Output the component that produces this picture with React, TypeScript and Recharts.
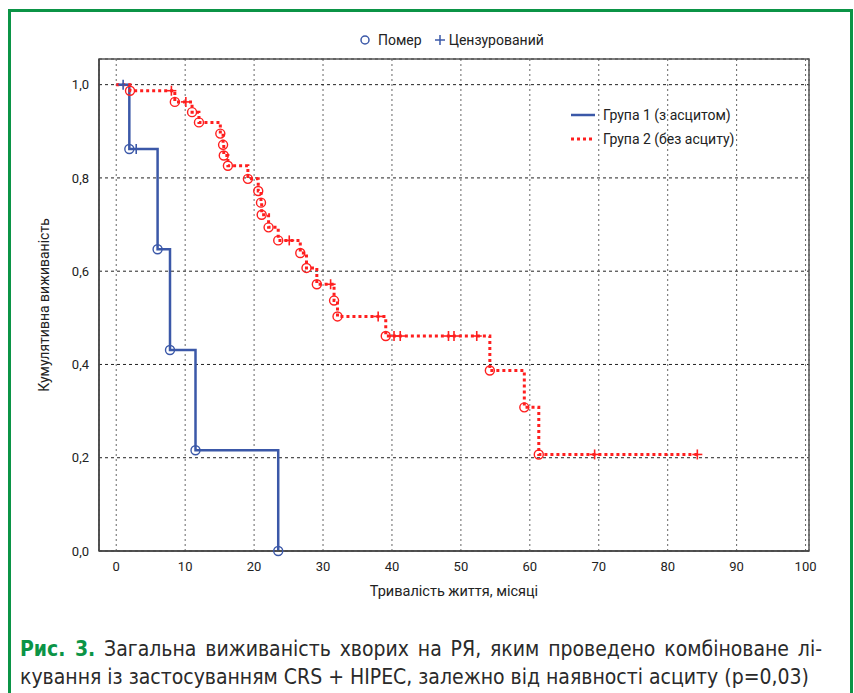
import {
  ComposedChart,
  Line,
  Scatter,
  XAxis,
  YAxis,
  CartesianGrid,
  ReferenceArea,
  Legend,
} from 'recharts';

// Група 1 (з асцитом): step points, deaths and censored cases
const group1Steps = [
  { t: 0, s: 1 },
  { t: 1.9, s: 0.862 },
  { t: 6.0, s: 0.647 },
  { t: 7.8, s: 0.431 },
  { t: 11.5, s: 0.216 },
  { t: 23.5, s: 0 },
];
const group1Deaths = group1Steps.slice(1);
const group1Censored = [
  { t: 1.0, s: 1 },
  { t: 2.9, s: 0.862 },
];

// Група 2 (без асциту)
const group2DeathTimes = [
  2.0, 8.5, 11.0, 12.0, 15.1, 15.5, 15.6, 16.2, 19.1, 20.6, 21.0, 21.1, 22.1, 23.5, 26.7, 27.6, 29.1, 31.6, 32.1,
  39.1, 54.2, 59.2, 61.3,
];
const group2DeathSurv = [
  0.987, 0.963, 0.941, 0.919, 0.895, 0.871, 0.848, 0.826, 0.798, 0.772, 0.747, 0.721, 0.694, 0.666, 0.639, 0.607,
  0.572, 0.537, 0.503, 0.461, 0.387, 0.308, 0.207,
];
const group2CensTimes = [8.0, 10.1, 25.1, 31.1, 38.0, 40.3, 41.2, 48.2, 49.0, 52.3, 69.4, 84.3];
const group2CensSurv = [0.987, 0.963, 0.666, 0.572, 0.503, 0.461, 0.461, 0.461, 0.461, 0.461, 0.207, 0.207];

const xTicks = [0, 10, 20, 30, 40, 50, 60, 70, 80, 90, 100];
const yTicks = [0, 0.2, 0.4, 0.6, 0.8, 1.0];

const group2Deaths = group2DeathTimes.map((t, i) => ({ t, s: group2DeathSurv[i] }));
const group2Censored = group2CensTimes.map((t, i) => ({ t, s: group2CensSurv[i] }));
const group2Steps = [{ t: 0, s: 1 }, ...group2Deaths, { t: 84.3, s: 0.207 }];

const BLUE = '#3b58a8';
const RED = '#ff1f1f';
const GREEN = '#0b9446';
const FONT = 'Roboto, sans-serif';

const circleShape = (color: string) => (props: any) => (
  <circle cx={props.cx} cy={props.cy} r={4.5} fill="none" stroke={color} strokeWidth={1.4} />
);

const plusShape = (color: string) => (props: any) => (
  <g stroke={color} strokeWidth={1.6}>
    <line x1={props.cx - 5} y1={props.cy} x2={props.cx + 5} y2={props.cy} />
    <line x1={props.cx} y1={props.cy - 5} x2={props.cx} y2={props.cy + 5} />
  </g>
);

const fmt = (v: number) => v.toFixed(1).replace('.', ',');

function GroupLegend() {
  return (
    <div style={{ fontFamily: FONT, fontSize: 14, color: '#222', lineHeight: '24px' }}>
      <div style={{ display: 'flex', alignItems: 'center' }}>
        <svg width={34} height={10}>
          <line x1={2} y1={5} x2={26} y2={5} stroke={BLUE} strokeWidth={2.5} />
        </svg>
        <span>Група 1 (з асцитом)</span>
      </div>
      <div style={{ display: 'flex', alignItems: 'center' }}>
        <svg width={34} height={10}>
          <line x1={2} y1={5} x2={26} y2={5} stroke={RED} strokeWidth={3} strokeDasharray="3 3" />
        </svg>
        <span>Група 2 (без асциту)</span>
      </div>
    </div>
  );
}

export default function App() {
  return (
    <div style={{ position: 'absolute', left: 0, top: 0, width: 854, height: 693, overflow: 'hidden', background: '#fff' }}>
      <div
        style={{
          position: 'absolute',
          left: 8,
          top: 9,
          width: 845,
          height: 720,
          border: `3px solid ${GREEN}`,
          boxSizing: 'border-box',
        }}
      />
      <div
        style={{
          position: 'absolute',
          left: 358,
          top: 32,
          display: 'flex',
          alignItems: 'center',
          fontFamily: FONT,
          fontSize: 14,
          color: '#222',
        }}
      >
        <svg width={14} height={14}>
          <circle cx={7} cy={7} r={4} fill="none" stroke={BLUE} strokeWidth={1.5} />
        </svg>
        <span style={{ marginLeft: 6 }}>Помер</span>
        <svg width={14} height={14} style={{ marginLeft: 11 }}>
          <line x1={2} y1={7} x2={12} y2={7} stroke={BLUE} strokeWidth={1.5} />
          <line x1={7} y1={2} x2={7} y2={12} stroke={BLUE} strokeWidth={1.5} />
        </svg>
        <span style={{ marginLeft: 2 }}>Цензурований</span>
      </div>
      <div style={{ position: 'absolute', left: 0, top: 0 }}>
        <ComposedChart width={854} height={693} margin={{ top: 59, right: 45, bottom: 92, left: 0 }}>
          <CartesianGrid horizontal={false} stroke="#666" strokeDasharray="2 3" />
          <CartesianGrid vertical={false} stroke="#222" strokeDasharray="3 3" />
          <XAxis
            dataKey="t"
            type="number"
            domain={[-2.5, 100.5]}
            ticks={xTicks}
            tickLine={false}
            tickSize={0}
            tickMargin={11}
            height={50}
            axisLine={{ stroke: '#444', strokeWidth: 1.5 }}
            tick={{ fill: '#222', fontSize: 13, fontFamily: FONT }}
            label={{
              value: 'Тривалість життя, місяці',
              position: 'insideBottom',
              offset: 5,
              style: { fill: '#222', fontSize: 14.5, fontFamily: FONT },
            }}
          />
          <YAxis
            dataKey="s"
            type="number"
            domain={[0, 1.055]}
            ticks={yTicks}
            tickFormatter={fmt}
            tickLine={false}
            tickSize={0}
            tickMargin={10}
            width={99}
            axisLine={{ stroke: '#444', strokeWidth: 1.5 }}
            tick={{ fill: '#222', fontSize: 13, fontFamily: FONT }}
            label={{
              value: 'Кумулятивна виживаність',
              angle: -90,
              position: 'insideLeft',
              offset: 44,
              style: { fill: '#222', fontSize: 14, fontFamily: FONT, textAnchor: 'middle' },
            }}
          />
          <ReferenceArea x1={-2.5} x2={100.5} y1={0} y2={1.055} fill="none" stroke="#555" strokeWidth={1.5} ifOverflow="visible" />
          <Line
            data={group1Steps}
            dataKey="s"
            type="stepAfter"
            stroke={BLUE}
            strokeWidth={2.5}
            dot={false}
            isAnimationActive={false}
          />
          <Line
            data={group2Steps}
            dataKey="s"
            type="stepAfter"
            stroke={RED}
            strokeWidth={3}
            strokeDasharray="3 3"
            dot={false}
            isAnimationActive={false}
          />
          <Scatter data={group1Deaths} dataKey="s" shape={circleShape(BLUE)} isAnimationActive={false} />
          <Scatter data={group1Censored} dataKey="s" shape={plusShape(BLUE)} isAnimationActive={false} />
          <Scatter data={group2Deaths} dataKey="s" shape={circleShape(RED)} isAnimationActive={false} />
          <Scatter data={group2Censored} dataKey="s" shape={plusShape(RED)} isAnimationActive={false} />
          <Legend
            layout="horizontal"
            verticalAlign="middle"
            align="center"
            content={() => <GroupLegend />}
            wrapperStyle={{ position: 'absolute', left: 569, top: 103, width: 220 }}
          />
        </ComposedChart>
      </div>
      <div
        style={{
          position: 'absolute',
          left: 20,
          top: 635,
          width: 802,
          fontFamily: "'Liberation Sans Narrow', 'DejaVu Sans Condensed', sans-serif",
          fontSize: 21,
          lineHeight: '28px',
          color: '#2a2a2a',
        }}
      >
        <div style={{ textAlign: 'justify', textAlignLast: 'justify' }}>
          <span style={{ color: GREEN, fontWeight: 'bold' }}>Рис. 3.</span> Загальна виживаність хворих на РЯ, яким
          проведено комбіноване лі-
        </div>
        <div>кування із застосуванням CRS + HIPEC, залежно від наявності асциту (p=0,03)</div>
      </div>
    </div>
  );
}
